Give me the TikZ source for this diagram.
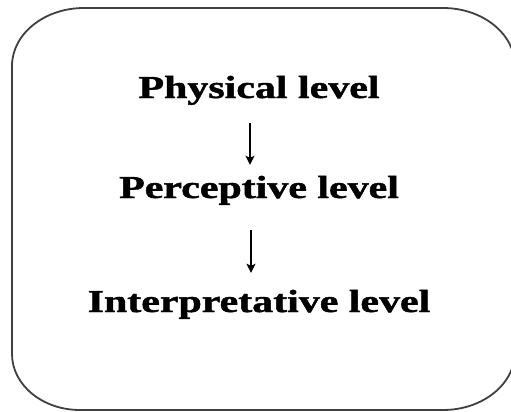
\documentclass[tikz,border=0pt]{standalone}
\usepackage{fontspec}
\setmainfont{Liberation Serif}[BoldFeatures={FakeBold=1.2}]
\usetikzlibrary{arrows.meta}
\tikzset{
  level/.style={inner sep=0pt, anchor=base, text height=21pt, text depth=7pt, font=\fontsize{32}{38}\selectfont\bfseries},
  flow/.style={line width=2.6pt, -{Stealth[length=9pt,width=9pt,inset=2pt]}},
  frame/.style={line width=1.8pt, draw=black!75}
}
\newcommand{\wide}[1]{\scalebox{1.31}[1]{#1}}
\begin{document}
\begin{tikzpicture}[x=1pt,y=1pt]
\useasboundingbox (0,0) rectangle (511,-412);
\clip (0,0) rectangle (511,-412);
\fill[white] (0,0) rectangle (511,-412);
\draw[frame] (84,-8) -- (443,-8) arc[start angle=90,end angle=0,x radius=72,y radius=58]
  -- (515,-352) arc[start angle=0,end angle=-90,x radius=72,y radius=58]
  -- (80,-410) arc[start angle=270,end angle=180,x radius=68,y radius=56]
  -- (12,-66) arc[start angle=180,end angle=90,x radius=72,y radius=58] -- cycle;
\node[level] (phys) at (259,-98) {\wide{Physical level}};
\node[level] (perc) at (259,-198) {\wide{Perceptive level}};
\node[level] (interp) at (259,-312) {\wide{Interpretative level}};
\draw[flow, shorten <=18pt, shorten >=12pt] ([xshift=-9pt]phys.south) -- ([xshift=-9pt]perc.north);
\draw[flow, shorten <=25pt, shorten >=18pt] ([xshift=-8pt]perc.south) -- ([xshift=-8pt]interp.north);
\end{tikzpicture}
\end{document}
